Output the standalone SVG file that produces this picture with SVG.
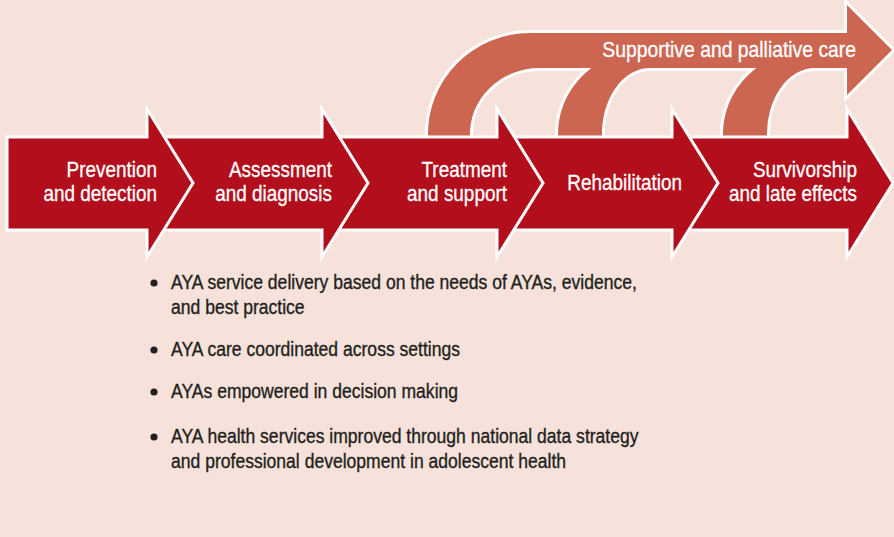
<svg xmlns="http://www.w3.org/2000/svg" xmlns:xlink="http://www.w3.org/1999/xlink" width="894" height="537" viewBox="0 0 894 537">
  <style>
    .bg { fill: #f6e2da; }
    .red { fill: #b30e1c; stroke: #ffffff; stroke-width: 3; stroke-linejoin: miter; }
    .orange-outline { fill: #ffffff; stroke: #ffffff; stroke-width: 6; stroke-linejoin: miter; }
    .orange-fill { fill: #cc6651; stroke: none; }
    .label { font-family: "Liberation Sans", Arial, sans-serif; font-size: 21.5px; fill: #ffffff; stroke: #ffffff; stroke-width: 0.3; }
    .bullet { font-family: "Liberation Sans", Arial, sans-serif; font-size: 19.5px; fill: #231f20; stroke: #231f20; stroke-width: 0.35; }
    .dot { fill: #231f20; }
  </style>
  <defs>
    <g id="orangeShape">
      <path d="M428,137 A102,101 0 0 1 530,33 L847,33 L847,5 L892,50 L847,95 L847,68 L540,68 A70,66 0 0 0 470,137 Z"/>
      <path d="M558,137 A90,85 0 0 1 648,49 L700,49 L700,68 L650,68 A48,66 0 0 0 602,137 Z"/>
      <path d="M723,137 A90,85 0 0 1 813,49 L840,49 L840,68 L815,68 A48,66 0 0 0 767,137 Z"/>
    </g>
  </defs>
  <rect class="bg" x="0" y="0" width="894" height="537"/>

  <g id="node-supportive-care">
    <use xlink:href="#orangeShape" class="orange-outline"/>
    <use xlink:href="#orangeShape" class="orange-fill"/>
    <text class="label" text-anchor="end" transform="translate(856,0) scale(0.9,1)"><tspan x="0" y="57">Supportive and palliative care</tspan></text>
  </g>

  <g id="node-survivorship">
    <path class="red" d="M677,137 L847,137 L847,109 L893,183 L847,257 L847,230 L677,230 Z"/>
    <text class="label" text-anchor="end" transform="translate(857,0) scale(0.88,1)"><tspan x="0" y="177">Survivorship</tspan><tspan x="0" y="201">and late effects</tspan></text>
  </g>

  <g id="node-rehabilitation">
    <path class="red" d="M502,137 L672,137 L672,109 L718,183 L672,257 L672,230 L502,230 Z"/>
    <text class="label" text-anchor="end" transform="translate(682,0) scale(0.88,1)"><tspan x="0" y="190">Rehabilitation</tspan></text>
  </g>

  <g id="node-treatment">
    <path class="red" d="M327,137 L497,137 L497,109 L543,183 L497,257 L497,230 L327,230 Z"/>
    <text class="label" text-anchor="end" transform="translate(507,0) scale(0.88,1)"><tspan x="0" y="177">Treatment</tspan><tspan x="0" y="201">and support</tspan></text>
  </g>

  <g id="node-assessment">
    <path class="red" d="M152,137 L322,137 L322,109 L368,183 L322,257 L322,230 L152,230 Z"/>
    <text class="label" text-anchor="end" transform="translate(332,0) scale(0.88,1)"><tspan x="0" y="177">Assessment</tspan><tspan x="0" y="201">and diagnosis</tspan></text>
  </g>

  <g id="node-prevention">
    <path class="red" d="M7,137 L147,137 L147,109 L193,183 L147,257 L147,230 L7,230 Z"/>
    <text class="label" text-anchor="end" transform="translate(157,0) scale(0.88,1)"><tspan x="0" y="177">Prevention</tspan><tspan x="0" y="201">and detection</tspan></text>
  </g>

  <g id="connectors"/>

  <g id="node-bullets">
    <circle class="dot" cx="154" cy="283" r="3.6"/>
    <circle class="dot" cx="154" cy="350" r="3.6"/>
    <circle class="dot" cx="154" cy="392" r="3.6"/>
    <circle class="dot" cx="154" cy="437" r="3.6"/>
    <text class="bullet" transform="translate(171,0) scale(0.9,1)">
      <tspan x="0" y="289">AYA service delivery based on the needs of AYAs, evidence,</tspan>
      <tspan x="0" y="314">and best practice</tspan>
      <tspan x="0" y="356">AYA care coordinated across settings</tspan>
      <tspan x="0" y="398">AYAs empowered in decision making</tspan>
      <tspan x="0" y="443">AYA health services improved through national data strategy</tspan>
      <tspan x="0" y="468">and professional development in adolescent health</tspan>
    </text>
  </g>
</svg>
